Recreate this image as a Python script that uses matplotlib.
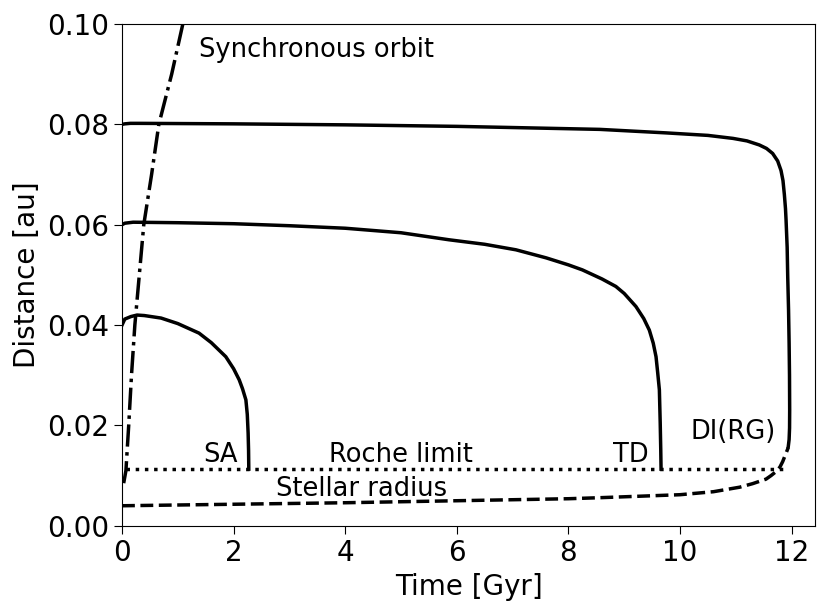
import matplotlib
matplotlib.use("Agg")
import matplotlib.pyplot as plt

# Planet orbital evolution
t_sa = [0, 0.05, 0.16, 0.27, 0.4, 0.7, 1.0, 1.38, 1.6, 1.86, 2.0, 2.10, 2.16, 2.22,
        2.245, 2.26, 2.268, 2.272]
a_sa = [0.040, 0.0412, 0.0417, 0.0420, 0.0419, 0.0414, 0.0403, 0.0384, 0.0365, 0.0337,
        0.0313, 0.0291, 0.0273, 0.0251, 0.0222, 0.0185, 0.0150, 0.0113]

t_td = [0, 0.05, 0.2, 1, 2, 3, 4, 5, 5.86, 6.5, 7.06, 7.6, 8.0, 8.25, 8.6, 8.85, 9.0,
        9.21, 9.35, 9.45, 9.52, 9.57, 9.60, 9.63, 9.645, 9.655, 9.66]
a_td = [0.0600, 0.0603, 0.0605, 0.0604, 0.0602, 0.0598, 0.0593, 0.0584, 0.0570, 0.0561,
        0.0550, 0.0534, 0.0520, 0.0510, 0.0492, 0.0477, 0.0463, 0.0437, 0.0413, 0.0390,
        0.0364, 0.0337, 0.0305, 0.0271, 0.0205, 0.0150, 0.0113]

t_di = [0, 0.05, 0.15, 0.3, 2, 4, 6, 8.56, 9.75, 10.5, 10.95, 11.2, 11.42, 11.55, 11.66,
        11.75, 11.81, 11.845, 11.87, 11.89, 11.90, 11.92, 11.93, 11.945, 11.955, 11.962,
        11.965, 11.963, 11.955, 11.94]
a_di = [0.0800, 0.0801, 0.0802, 0.0802, 0.0801, 0.0799, 0.0796, 0.0790, 0.0783, 0.0778,
        0.0772, 0.0767, 0.0759, 0.0752, 0.0742, 0.0727, 0.0708, 0.0688, 0.0660, 0.0632,
        0.0610, 0.0555, 0.0497, 0.0430, 0.0364, 0.0300, 0.0231, 0.0195, 0.0172, 0.0158]

# Synchronous orbit
t_sync = [0.03, 0.07, 0.12, 0.17, 0.23, 0.31, 0.39, 0.53, 0.66, 0.89, 1.09]
a_sync = [0.0085, 0.011, 0.020, 0.030, 0.040, 0.050, 0.060, 0.070, 0.080, 0.090, 0.100]

# Stellar radius
t_star = [0, 2, 4, 6, 8, 8.55, 10, 10.6, 11.07, 11.3, 11.54, 11.63, 11.72, 11.79,
          11.84, 11.89, 11.94]
r_star = [0.0040, 0.0043, 0.0046, 0.0050, 0.0054, 0.0056, 0.0062, 0.0068, 0.0077,
          0.0084, 0.0093, 0.0100, 0.0108, 0.0117, 0.0128, 0.0142, 0.0156]

# Roche limit
t_roche = [0.08, 11.9]
a_roche = [0.0113, 0.0113]

fig = plt.figure(figsize=(8.3, 6.15), dpi=100)
ax = fig.add_axes([0.147, 0.145, 0.835, 0.816])

lw = 2.5
ax.plot(t_sa, a_sa, color='k', lw=lw)
ax.plot(t_td, a_td, color='k', lw=lw)
ax.plot(t_di, a_di, color='k', lw=lw)
ax.plot(t_sync, a_sync, color='k', lw=lw, linestyle='-.')
ax.plot(t_star, r_star, color='k', lw=lw, linestyle='--')
ax.plot(t_roche, a_roche, color='k', lw=lw, linestyle=':')

fs = 18.5
ax.text(1.38, 0.0948, "Synchronous orbit", fontsize=fs, ha='left', va='center')
ax.text(1.76, 0.0141, "SA", fontsize=fs, ha='center', va='center')
ax.text(5.0, 0.0141, "Roche limit", fontsize=fs, ha='center', va='center')
ax.text(9.11, 0.0141, "TD", fontsize=fs, ha='center', va='center')
ax.text(10.96, 0.0187, "DI(RG)", fontsize=fs, ha='center', va='center')
ax.text(4.3, 0.0073, "Stellar radius", fontsize=fs, ha='center', va='center')

ax.set_xlim(0, 12.42)
ax.set_ylim(0, 0.1)
ax.set_xticks([0, 2, 4, 6, 8, 10, 12])
ax.set_yticks([0.0, 0.02, 0.04, 0.06, 0.08, 0.10])
ax.set_yticklabels(["0.00", "0.02", "0.04", "0.06", "0.08", "0.10"])
ax.tick_params(labelsize=20, length=6)
ax.set_xlabel("Time [Gyr]", fontsize=20)
ax.set_ylabel("Distance [au]", fontsize=20)

fig.savefig("out.png", dpi=100)
